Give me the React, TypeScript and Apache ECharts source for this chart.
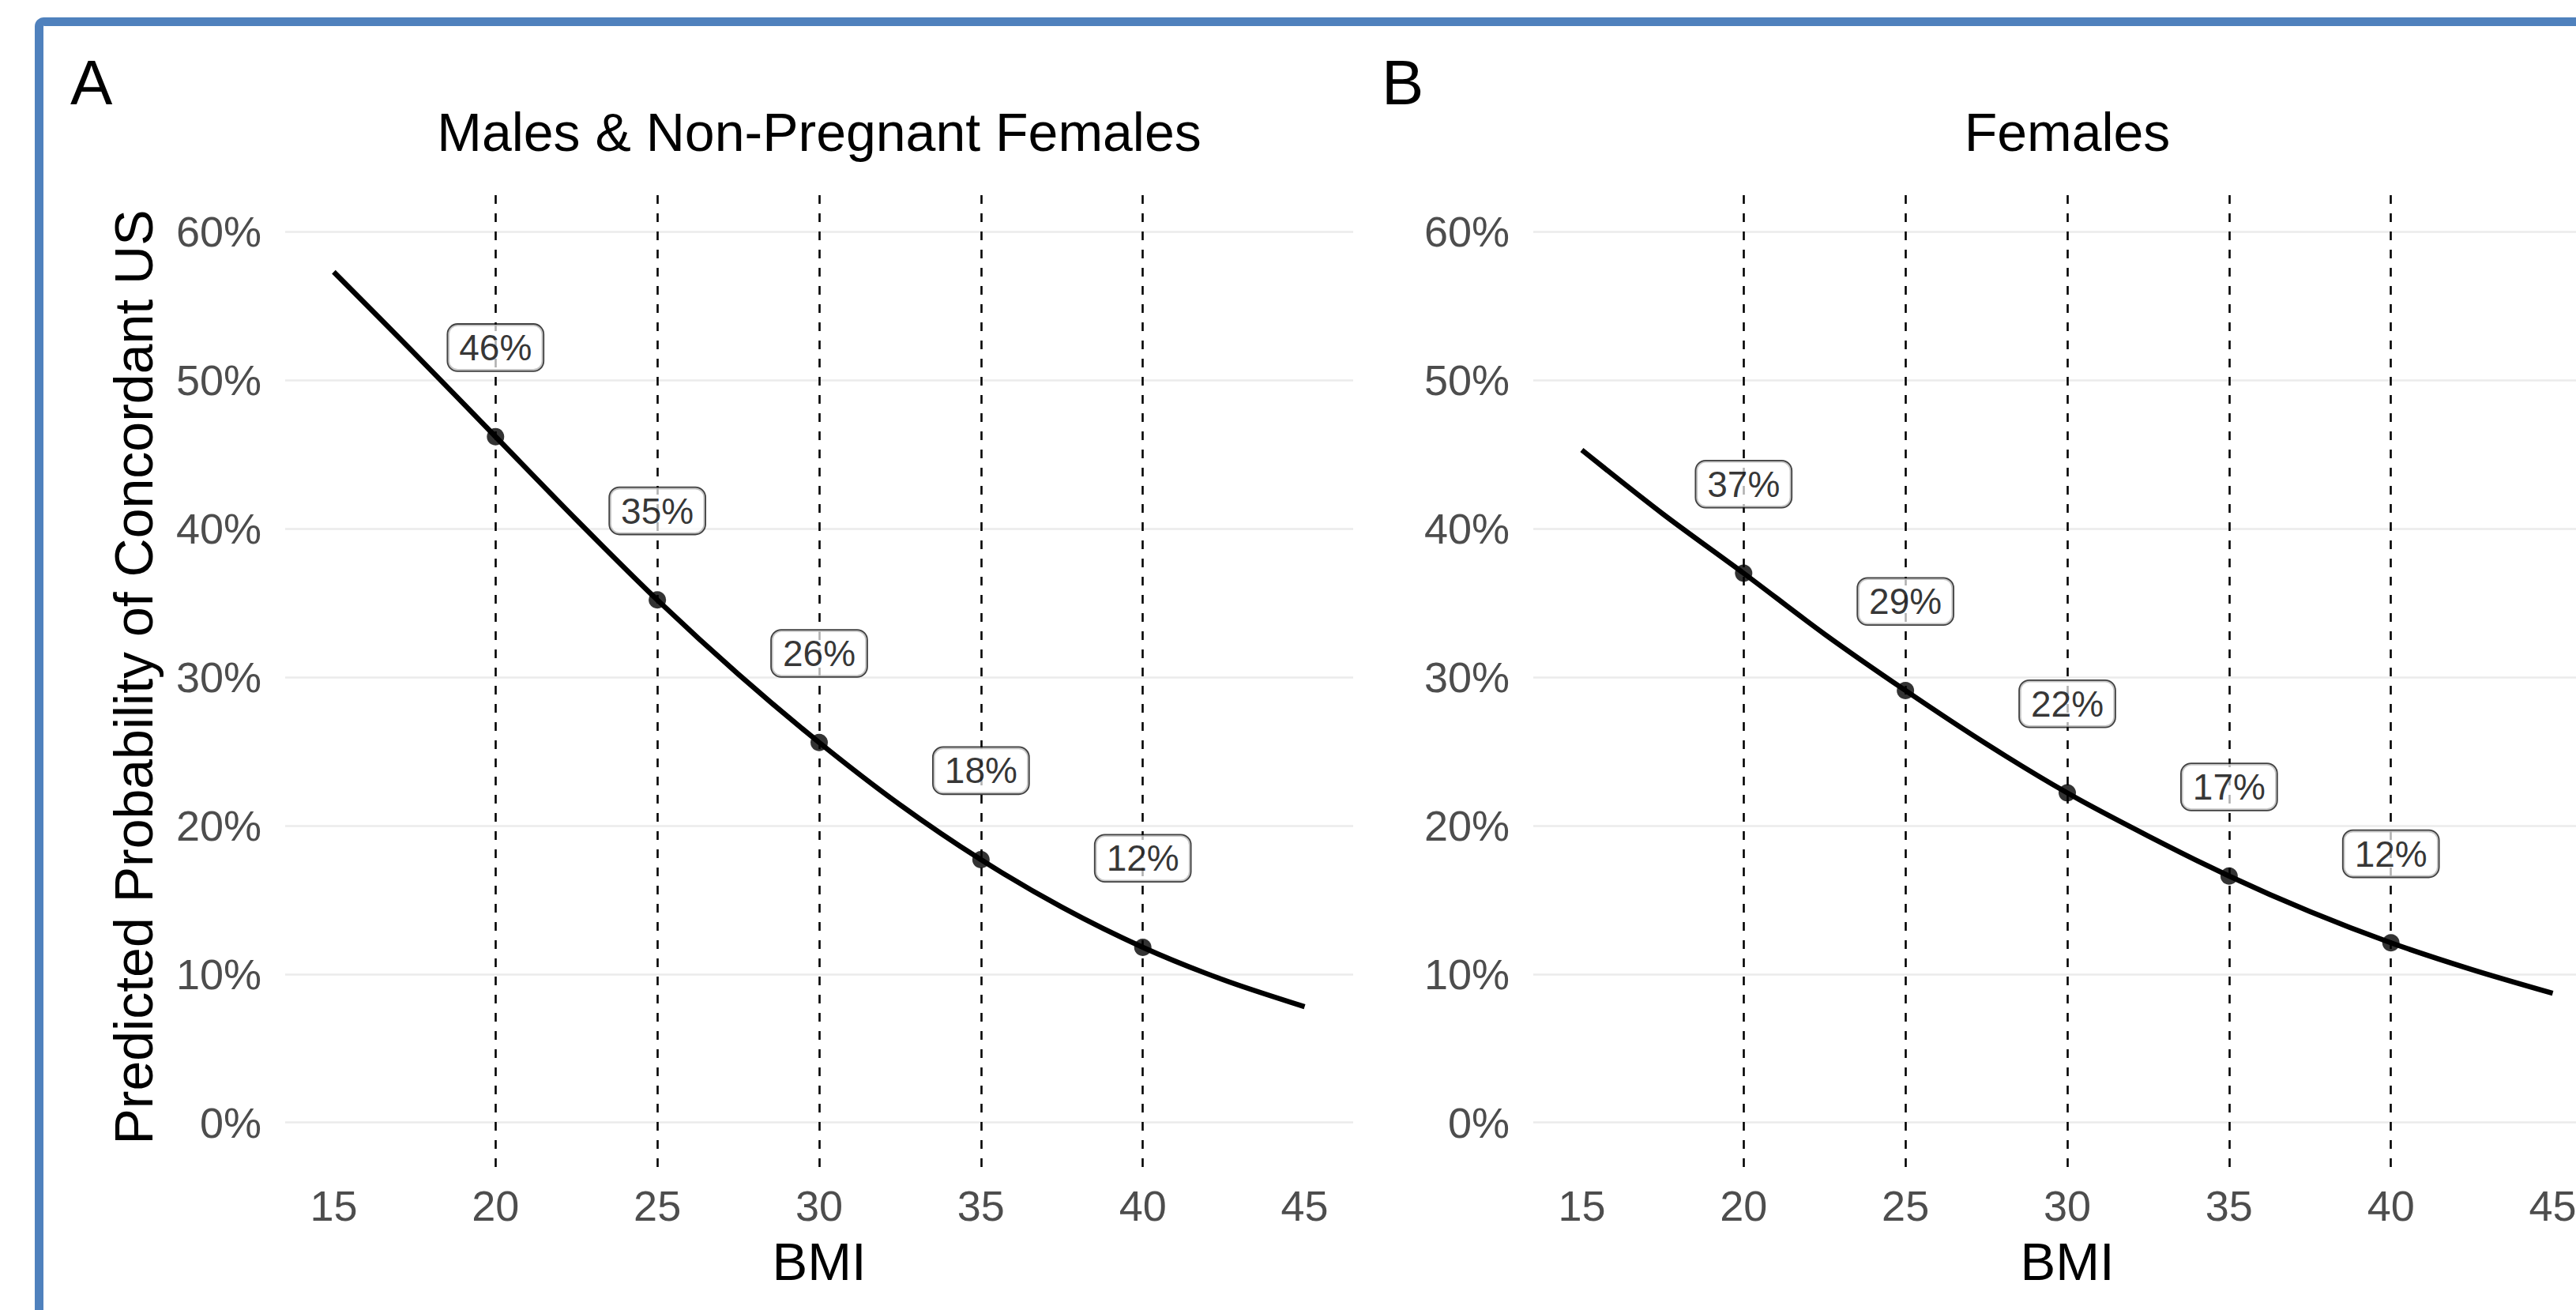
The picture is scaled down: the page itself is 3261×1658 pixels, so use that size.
import React, { useEffect, useRef } from "react";
import * as echarts from "echarts";

// ---- data ----
const bmiGrid = [15, 17.5, 20, 22.5, 25, 27.5, 30, 32.5, 35, 37.5, 40, 42.5, 45];
const probMales = [57.3, 51.8, 46.2, 40.6, 35.2, 30.2, 25.6, 21.4, 17.7, 14.5, 11.8, 9.6, 7.8];
const probFemales = [45.3, 41.0, 37.0, 32.9, 29.1, 25.5, 22.2, 19.3, 16.6, 14.2, 12.1, 10.3, 8.7];

const markerBmi = [20, 25, 30, 35, 40];
const markerMales = [46.2, 35.2, 25.6, 17.7, 11.8];
const markerFemales = [37.0, 29.1, 22.2, 16.6, 12.1];
const labelsMales = ["46%", "35%", "26%", "18%", "12%"];
const labelsFemales = ["37%", "29%", "22%", "17%", "12%"];

const xTicks = [15, 20, 25, 30, 35, 40, 45];
const yTicks = [0, 10, 20, 30, 40, 50, 60];
const panelTitles = ["Males & Non-Pregnant Females", "Females"];
const panelTags = ["A", "B"];
const xTitle = "BMI";
const yTitle = "Predicted Probability of Concordant US";
const LABEL_LIFT = 6; // labels sit 6 percentage points above their point

const FONT = "'Liberation Sans', Arial, Helvetica, sans-serif";

export default function App() {
  const ref = useRef<HTMLDivElement>(null);

  useEffect(() => {
    document.body.style.margin = "0";
    if (!ref.current) return;
    const chart = echarts.init(ref.current, undefined, { renderer: "svg" });

    const gridLefts = [361, 1941];
    const gridW = 1352;
    const gridTop = 237;
    const gridH = 1240;
    const W = 3261;

    const panels = [
      { curve: probMales, pts: markerMales, labels: labelsMales },
      { curve: probFemales, pts: markerFemales, labels: labelsFemales },
    ];

    const grids = gridLefts.map((l) => ({
      left: l,
      right: W - l - gridW,
      top: gridTop,
      height: gridH,
      containLabel: false,
      outerBoundsMode: "none",
    }));

    const xAxes = gridLefts.map((_, i) => ({
      type: "value",
      gridIndex: i,
      min: 13.5,
      max: 46.5,
      axisLine: { show: false, onZero: false },
      axisTick: { show: false },
      splitLine: { show: false },
      axisLabel: {
        customValues: xTicks,
        fontSize: 54,
        color: "#4D4D4D",
        fontFamily: FONT,
        margin: 22,
      },
    }));

    const yAxes = gridLefts.map((_, i) => ({
      type: "value",
      gridIndex: i,
      min: -3,
      max: 63,
      axisLine: { show: false },
      axisTick: { show: false },
      splitLine: { show: false },
      axisLabel: {
        customValues: yTicks,
        formatter: "{value}%",
        fontSize: 54,
        color: "#4D4D4D",
        fontFamily: FONT,
        margin: 30,
      },
    }));

    const series: any[] = [];
    panels.forEach((p, i) => {
      const curveData = bmiGrid.map((x, k) => [x, p.curve[k]]);
      // gridlines
      series.push({
        type: "line",
        xAxisIndex: i,
        yAxisIndex: i,
        data: curveData,
        showSymbol: false,
        lineStyle: { opacity: 0 },
        silent: true,
        z: 1,
        markLine: {
          silent: true,
          symbol: "none",
          z: 1,
          label: { show: false },
          lineStyle: { color: "#EBEBEB", width: 2.5, type: "solid" },
          data: yTicks.map((v) => ({ yAxis: v })),
        },
      });
      // dashed vertical reference lines
      series.push({
        type: "line",
        xAxisIndex: i,
        yAxisIndex: i,
        data: curveData,
        showSymbol: false,
        lineStyle: { opacity: 0 },
        silent: true,
        z: 2,
        markLine: {
          silent: true,
          symbol: "none",
          z: 2,
          label: { show: false },
          lineStyle: { color: "#000000", width: 2.6, type: [11, 12] },
          data: markerBmi.map((v) => ({ xAxis: v })),
        },
      });
      // curve
      series.push({
        type: "line",
        xAxisIndex: i,
        yAxisIndex: i,
        data: curveData,
        smooth: 0.3,
        showSymbol: false,
        lineStyle: { color: "#000000", width: 6.5, cap: "butt" },
        z: 3,
      });
      // points
      series.push({
        type: "scatter",
        xAxisIndex: i,
        yAxisIndex: i,
        data: markerBmi.map((x, k) => [x, p.pts[k]]),
        symbolSize: 22,
        itemStyle: { color: "#000000" },
        z: 4,
      });
      // labels
      series.push({
        type: "scatter",
        xAxisIndex: i,
        yAxisIndex: i,
        data: markerBmi.map((x, k) => [x, p.pts[k] + LABEL_LIFT]),
        symbolSize: 0,
        z: 6,
        label: {
          show: true,
          position: "inside",
          formatter: (q: any) => p.labels[q.dataIndex],
          fontSize: 46,
          fontFamily: FONT,
          color: "#000000",
          backgroundColor: "rgba(255,255,255,0.87)",
          borderColor: "#111111",
          borderWidth: 1.8,
          borderRadius: 12,
          padding: [7, 14, 5, 14],
        },
      });
    });

    const centers = gridLefts.map((l) => l + gridW / 2);
    const graphic: any[] = [
      {
        type: "rect",
        shape: { x: 49.5, y: 27.5, width: 3400, height: 1800, r: 6 },
        style: { fill: "none", stroke: "#4F81BD", lineWidth: 11 },
        silent: true,
        z: 100,
      },
      {
        type: "text",
        x: 169,
        y: gridTop + gridH / 2,
        rotation: Math.PI / 2,
        style: {
          text: yTitle,
          fontSize: 68,
          fontFamily: FONT,
          fill: "#000000",
          align: "center",
          verticalAlign: "middle",
        },
      },
    ];
    panelTags.forEach((t, i) => {
      graphic.push({
        type: "text",
        x: i === 0 ? 89 : 1749,
        y: 104,
        style: { text: t, fontSize: 80, fontFamily: FONT, fill: "#000000", align: "left", verticalAlign: "middle" },
      });
    });
    panelTitles.forEach((t, i) => {
      graphic.push({
        type: "text",
        x: centers[i],
        y: 167,
        style: { text: t, fontSize: 68, fontFamily: FONT, fill: "#000000", align: "center", verticalAlign: "middle" },
      });
      graphic.push({
        type: "text",
        x: centers[i],
        y: 1596,
        style: { text: xTitle, fontSize: 67, fontFamily: FONT, fill: "#000000", align: "center", verticalAlign: "middle" },
      });
    });

    chart.setOption({
      animation: false,
      backgroundColor: "#FFFFFF",
      grid: grids,
      xAxis: xAxes,
      yAxis: yAxes,
      series,
      graphic,
    });

    return () => chart.dispose();
  }, []);

  return <div ref={ref} style={{ width: 3261, height: 1658 }} />;
}
